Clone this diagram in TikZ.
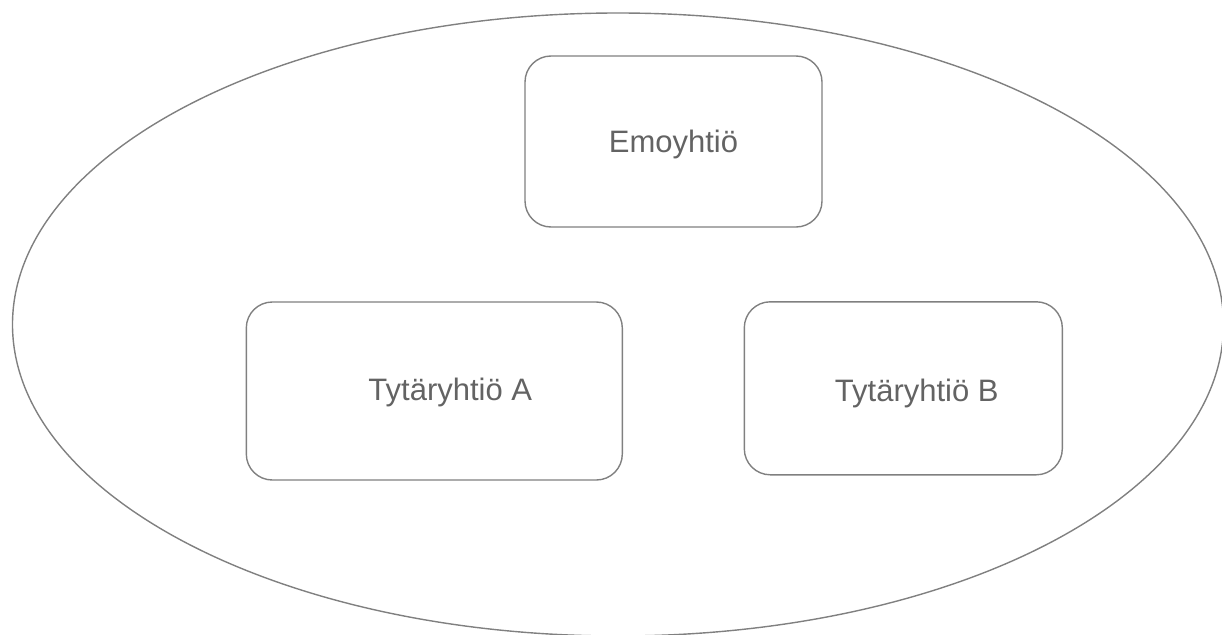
\documentclass[tikz,border=0pt]{standalone}
\usepackage{fontspec}
\setmainfont{Liberation Sans}
\usetikzlibrary{shapes.geometric}
\definecolor{viiva}{HTML}{808080}
\definecolor{teksti}{HTML}{636363}
\begin{document}
\begin{tikzpicture}[x=1pt, y=-1pt,
    every node/.style={font=\fontsize{31}{36}\selectfont, text=teksti, inner sep=0pt, text depth=0pt},
    yhtio/.style={draw=viiva, line width=1.4pt, rounded corners=26pt}]
  \useasboundingbox (0,0) rectangle (1222,634);
  \node [draw=viiva, line width=1.4pt, ellipse, minimum width=1211pt, minimum height=623pt] (konserni) at (618,324.5) {};
  \node [yhtio, minimum width=297pt, minimum height=171pt] (emo) at (673.5,141.5) {Emoyhtiö};
  \node [yhtio, minimum width=376pt, minimum height=178pt] (a) at (434.3,391) {};
  \node [yhtio, minimum width=318pt, minimum height=173pt] (b) at (903.3,388.3) {};
  \node at ([xshift=16pt, yshift=1.5pt]a.center) {Tytäryhtiö A};
  \node at ([xshift=13.5pt, yshift=-1.7pt]b.center) {Tytäryhtiö B};
\end{tikzpicture}
\end{document}
